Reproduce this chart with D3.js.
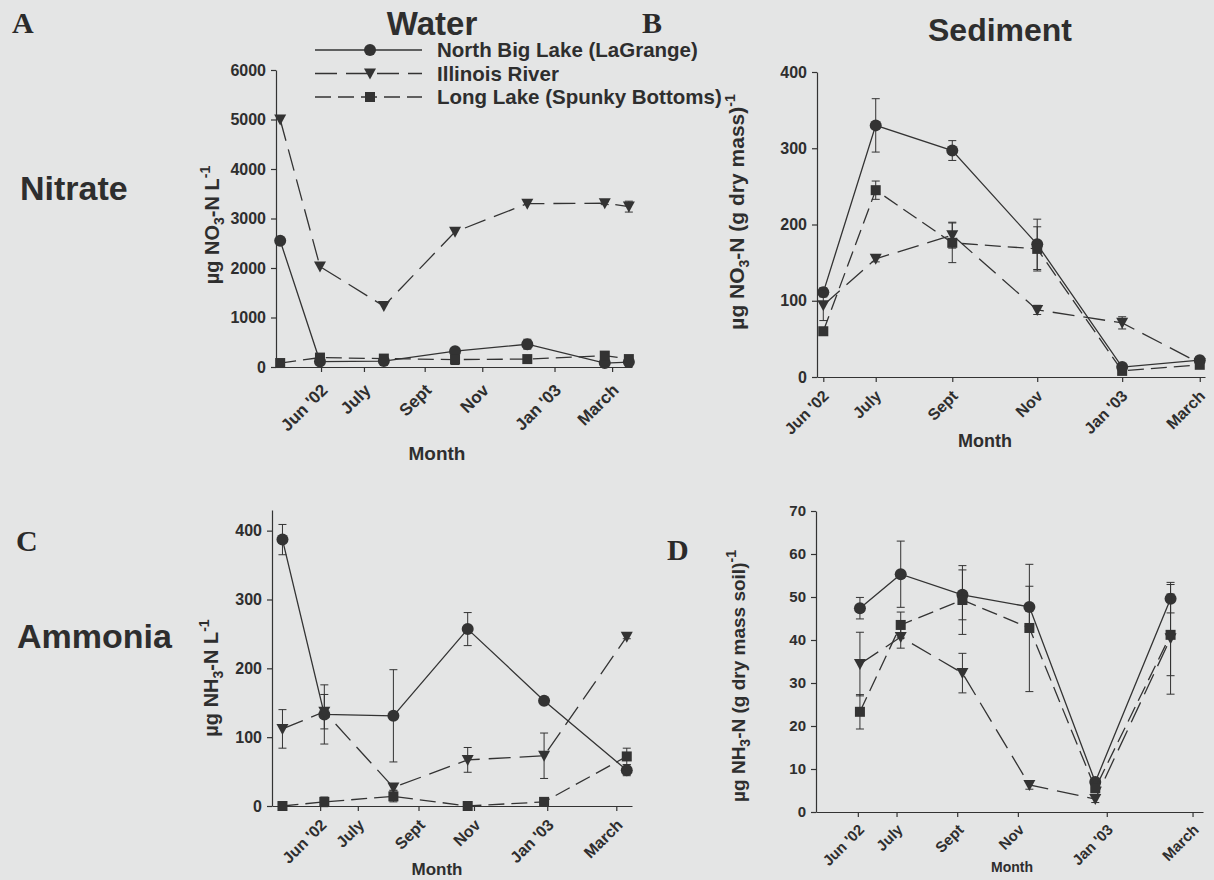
<!DOCTYPE html>
<html><head><meta charset="utf-8">
<script src="https://cdn.jsdelivr.net/npm/d3@7"></script>
<style>
body{margin:0;background:#e4e5e5;}
svg{display:block;}
text{font-family:"Liberation Sans",Arial,sans-serif;font-weight:bold;fill:#2e2e2e;}
</style>
</head><body>
<svg id="c" width="1214" height="880"></svg>
<script>
// ---------- DATA ----------
const months = ["Jun '02","July","Sept","Nov","Jan '03","March"];
const seriesNames = ["North Big Lake (LaGrange)","Illinois River","Long Lake (Spunky Bottoms)"];

// Panel A: Nitrate, water (µg NO3-N L-1); x = days since 1 May 2002
const tickDaysA = [43, 84, 142, 197, 266, 321];
const daysA  = [4, 42, 103, 171, 240, 314, 337];
const aNBL   = [2550, 110, 120, 320, 460, 80, 100];
const aNBLe  = [40, 40, 30, 60, 100, 30, 20];
const aIll   = [5000, 2030, 1230, 2730, 3300, 3310, 3240];
const aIlle  = [0, 0, 0, 0, 0, 30, 110];
const aLL    = [80, 190, 170, 150, 160, 230, 160];
const aLLe   = [20, 60, 40, 100, 40, 60, 60];
const yTicksA = [0, 1000, 2000, 3000, 4000, 5000, 6000];

// Panel B: Nitrate, sediment (µg NO3-N (g dry mass)-1)
const tickDaysB = [6, 56, 129, 210, 291, 365];
const daysB  = [6, 56, 129, 210, 291, 365];
const bNBL   = [111, 330, 297, 174, 13, 22];
const bNBLe  = [6, 35, 13, 33, 4, 5];
const bIll   = [94, 155, 186, 88, 71, 18];
const bIlle  = [20, 4, 17, 6, 8, 4];
const bLL    = [60, 245, 176, 168, 8, 16];
const bLLe   = [4, 12, 26, 29, 3, 4];
const yTicksB = [0, 100, 200, 300, 400];

// Panel C: Ammonia, water (µg NH3-N L-1)
const tickDaysC = [46, 82, 140, 193, 263, 329];
const daysC  = [10, 50, 116, 187, 260, 339];
const cNBL   = [387, 133, 131, 257, 153, 52];
const cNBLe  = [22, 43, 67, 24, 4, 8];
const cIll   = [112, 137, 27, 67, 73, 246];
const cIlle  = [28, 25, 4, 18, 33, 3];
const cLL    = [0, 6, 14, 0, 6, 72];
const cLLe   = [2, 7, 8, 2, 4, 12];
const yTicksC = [0, 100, 200, 300, 400];

// Panel D: Ammonia, sediment (µg NH3-N (g dry mass soil)-1)
const tickDaysD = [40, 77, 135, 193, 278, 360];
const daysD  = [42, 81, 140, 204, 267, 339];
const dNBL   = [47.4, 55.3, 50.5, 47.7, 7.0, 49.6];
const dNBLe  = [2.5, 7.7, 5.8, 4.8, 0.8, 3.3];
const dIll   = [34.4, 40.7, 32.3, 6.3, 3.0, 40.4];
const dIlle  = [7.4, 2.6, 4.6, 1.0, 0.8, 13];
const dLL    = [23.3, 43.5, 49.3, 42.8, 5.5, 41.2];
const dLLe   = [4, 3, 8, 14.8, 0.8, 9.5];
const yTicksD = [0, 10, 20, 30, 40, 50, 60, 70];

// ---------- STYLE ----------
const ink = "#333";
const styles = [
  {dash: null, marker: "circle"},
  {dash: "22,9", marker: "triangle"},
  {dash: "16,7", marker: "square"}
];

const svg = d3.select("#c");

function marker(g, type, x, y) {
  if (type === "circle") {
    g.append("circle").attr("cx", x).attr("cy", y).attr("r", 6).attr("fill", ink);
  } else if (type === "triangle") {
    g.append("path").attr("d", `M${x-6},${y-5}L${x+6},${y-5}L${x},${y+6}Z`).attr("fill", ink);
  } else {
    g.append("rect").attr("x", x-5).attr("y", y-5).attr("width", 10).attr("height", 10).attr("fill", ink);
  }
}

function drawPanel(cfg) {
  const g = svg.append("g");
  const x = d3.scaleLinear().domain(cfg.xDomain).range(cfg.xRange);
  const y = d3.scaleLinear().domain(cfg.yDomain).range(cfg.yRange);

  const ya = g.append("g").attr("transform", `translate(${cfg.xRange[0]},0)`)
    .call(d3.axisLeft(y).tickValues(cfg.yTicks).tickFormat(d3.format("d"))
      .tickSize(5).tickSizeOuter(0).tickPadding(5));
  ya.selectAll("text").style("font-size", cfg.yTickFont + "px");
  const xa = g.append("g").attr("transform", `translate(0,${cfg.yRange[0]})`)
    .call(d3.axisBottom(x).tickValues(cfg.xTicks).tickFormat((d, i) => months[i]).tickSize(5).tickSizeOuter(0));
  xa.selectAll("text")
    .style("font-size", cfg.xTickFont + "px")
    .attr("text-anchor", "end").attr("x", 0).attr("y", 0).attr("dy", "0.35em")
    .attr("transform", `translate(${cfg.lblOff[0]},${cfg.lblOff[1]}) rotate(-45)`);
  g.selectAll(".domain, .tick line").attr("stroke", ink).attr("stroke-width", 1.2);
  g.selectAll(".tick text").attr("fill", "#2e2e2e");

  cfg.series.forEach((s, si) => {
    const st = styles[si];
    const pts = s.v.map((v, i) => ({x: x(cfg.days[i]), y: y(v), lo: y(v - s.e[i]), hi: y(v + s.e[i])}));
    const sg = g.append("g");
    pts.forEach(p => {
      if (Math.abs(p.lo - p.hi) < 1) return;
      sg.append("line").attr("x1", p.x).attr("x2", p.x).attr("y1", p.lo).attr("y2", p.hi)
        .attr("stroke", ink).attr("stroke-width", 1);
      [p.lo, p.hi].forEach(yy => sg.append("line").attr("x1", p.x - 4).attr("x2", p.x + 4)
        .attr("y1", yy).attr("y2", yy).attr("stroke", ink).attr("stroke-width", 1));
    });
    sg.append("path").datum(pts)
      .attr("d", d3.line().x(d => d.x).y(d => d.y))
      .attr("fill", "none").attr("stroke", ink).attr("stroke-width", 1.3)
      .attr("stroke-dasharray", st.dash);
    pts.forEach(p => marker(sg, st.marker, p.x, p.y));
  });

  g.append("text").attr("x", cfg.monthPos[0]).attr("y", cfg.monthPos[1])
    .attr("text-anchor", "middle").style("font-size", cfg.monthFont + "px").text("Month");

  const yt = g.append("text").attr("transform", `translate(${cfg.yTitlePos[0]},${cfg.yTitlePos[1]}) rotate(-90)`)
    .attr("text-anchor", "middle").style("font-size", cfg.yTitleFont + "px");
  cfg.yTitle.forEach(part => {
    const t = yt.append("tspan").text(part.t);
    if (part.sub) t.attr("dy", 5).style("font-size", "14px");
    if (part.sup) t.attr("dy", -9).style("font-size", "14px");
    if (part.back) t.attr("dy", part.back);
  });
}

function series(v1, e1, v2, e2, v3, e3) {
  return [{v: v1, e: e1}, {v: v2, e: e2}, {v: v3, e: e3}];
}

drawPanel({
  xDomain: [0, 340], xRange: [276, 632], yDomain: [0, 6000], yRange: [367, 70],
  yTicks: yTicksA, xTicks: tickDaysA, days: daysA, yTickFont: 16, xTickFont: 17, monthFont: 19,
  lblOff: [3, 20],
  series: series(aNBL, aNBLe, aIll, aIlle, aLL, aLLe),
  monthPos: [437, 460], yTitlePos: [219, 225], yTitleFont: 20,
  yTitle: [{t: "µg NO"}, {t: "3", sub: true}, {t: "-N L", back: -5}, {t: "-1", sup: true}]
});
drawPanel({
  xDomain: [0, 370], xRange: [817, 1205], yDomain: [0, 400], yRange: [377, 72],
  yTicks: yTicksB, xTicks: tickDaysB, days: daysB, yTickFont: 16, xTickFont: 16, monthFont: 18,
  lblOff: [2, 16],
  series: series(bNBL, bNBLe, bIll, bIlle, bLL, bLLe),
  monthPos: [985, 447], yTitlePos: [744, 212], yTitleFont: 21,
  yTitle: [{t: "µg NO"}, {t: "3", sub: true}, {t: "-N (g dry mass)", back: -5}, {t: "-1", sup: true}]
});
drawPanel({
  xDomain: [0, 344], xRange: [272, 632], yDomain: [0, 430], yRange: [806, 510],
  yTicks: yTicksC, xTicks: tickDaysC, days: daysC, yTickFont: 16, xTickFont: 16, monthFont: 17,
  lblOff: [3, 16],
  series: series(cNBL, cNBLe, cIll, cIlle, cLL, cLLe),
  monthPos: [437, 875], yTitlePos: [218, 678], yTitleFont: 20,
  yTitle: [{t: "µg NH"}, {t: "3", sub: true}, {t: "-N L", back: -5}, {t: "-1", sup: true}]
});
drawPanel({
  xDomain: [0, 370], xRange: [816, 1203], yDomain: [0, 70], yRange: [812, 511],
  yTicks: yTicksD, xTicks: tickDaysD, days: daysD, yTickFont: 15, xTickFont: 15, monthFont: 14,
  lblOff: [3, 15],
  series: series(dNBL, dNBLe, dIll, dIlle, dLL, dLLe),
  monthPos: [1012, 872], yTitlePos: [745, 676], yTitleFont: 19,
  yTitle: [{t: "µg NH"}, {t: "3", sub: true}, {t: "-N (g dry mass soil)", back: -5}, {t: "-1", sup: true}]
});

// legend
const lg = svg.append("g");
seriesNames.forEach((name, i) => {
  const yy = 50 + i * 23.5;
  lg.append("line").attr("x1", 315).attr("x2", 422).attr("y1", yy).attr("y2", yy)
    .attr("stroke", ink).attr("stroke-width", 1.3).attr("stroke-dasharray", styles[i].dash);
  marker(lg, styles[i].marker, 370, yy);
  lg.append("text").attr("x", 437).attr("y", yy + 7).style("font-size", "20.5px").text(name);
});

// panel letters & titles
const serif = '"Liberation Serif","Times New Roman",serif';
[["A", 12, 33], ["B", 642, 33], ["C", 16, 551], ["D", 667, 560]].forEach(([t, x, y]) =>
  svg.append("text").attr("x", x).attr("y", y).style("font-family", serif).style("font-size", "30px")
    .style("fill", "#2a2a2a").text(t));
svg.append("text").attr("x", 432).attr("y", 35).attr("text-anchor", "middle").style("font-size", "33px").text("Water");
svg.append("text").attr("x", 1000).attr("y", 41).attr("text-anchor", "middle").style("font-size", "32px").text("Sediment");
svg.append("text").attr("x", 20).attr("y", 200).style("font-size", "34px").text("Nitrate");
svg.append("text").attr("x", 17).attr("y", 648).style("font-size", "34px").text("Ammonia");
</script>
</body></html>
